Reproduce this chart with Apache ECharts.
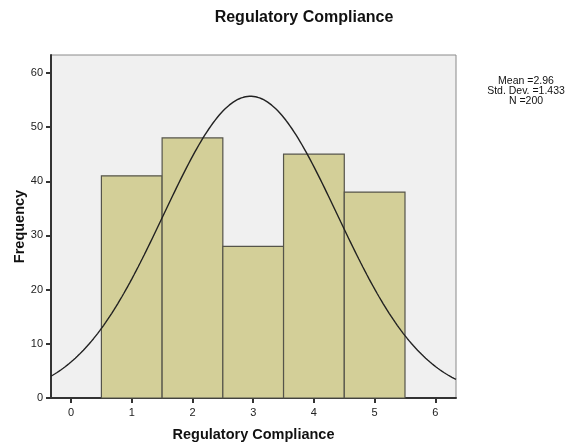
<!DOCTYPE html>
<html>
<head>
<meta charset="utf-8">
<script src="https://cdn.jsdelivr.net/npm/echarts@6/dist/echarts.min.js"></script>
<style>
  html, body { margin: 0; padding: 0; background: #fff; }
  #chart { width: 565px; height: 446px; }
</style>
</head>
<body>
<div id="chart"></div>
<script>
// Histogram bins (score value) and their counts
const binCenters = [1, 2, 3, 4, 5];
const binCounts = [41, 48, 28, 45, 38];
const xTicks = [0, 1, 2, 3, 4, 5, 6];
const yTicks = [0, 10, 20, 30, 40, 50, 60];

// Summary statistics shown beside the plot
const sampleMean = 2.955;
const sampleSd = 1.433;
const sampleN = 200;
const binWidth = 1;

const xMin = -0.33, xMax = 6.34;

// Fitted normal curve, scaled to counts per bin
const curveXs = [];
for (let i = 0; i <= 200; i++) curveXs.push(xMin + (xMax - xMin) * i / 200);
const curveData = curveXs.map(x => {
  const z = (x - sampleMean) / sampleSd;
  const y = sampleN * binWidth / (sampleSd * Math.sqrt(2 * Math.PI)) * Math.exp(-0.5 * z * z);
  return [x, y];
});

const chart = echarts.init(document.getElementById('chart'));
const font = 'Liberation Sans, Arial, sans-serif';

chart.setOption({
  animation: false,
  backgroundColor: '#ffffff',
  title: {
    text: 'Regulatory Compliance',
    left: 299, top: 5, textAlign: 'center',
    textStyle: { fontFamily: font, fontSize: 16, fontWeight: 'bold', color: '#111' }
  },
  grid: {
    left: 51, right: 109, top: 55, bottom: 48,
    outerBoundsMode: 'none', containLabel: false,
    show: true, backgroundColor: '#f0f0f0', borderColor: '#8a8a8a', borderWidth: 1
  },
  xAxis: {
    type: 'value', min: xMin, max: xMax,
    name: 'Regulatory Compliance', nameLocation: 'middle', nameGap: 29,
    nameMoveOverlap: false,
    nameTextStyle: { fontFamily: font, fontSize: 14.5, fontWeight: 'bold', color: '#111' },
    axisLine: { show: true, onZero: false, lineStyle: { color: '#333', width: 2 } },
    axisTick: { show: true, length: 5, lineStyle: { color: '#333', width: 2 }, customValues: xTicks },
    axisLabel: { fontFamily: font, fontSize: 11, color: '#222', margin: 9, customValues: xTicks,
                 showMinLabel: true, showMaxLabel: true },
    splitLine: { show: false }
  },
  yAxis: {
    type: 'value', min: 0, max: 63.3,
    name: 'Frequency', nameLocation: 'middle', nameGap: 24,
    nameMoveOverlap: false,
    nameTextStyle: { fontFamily: font, fontSize: 14.5, fontWeight: 'bold', color: '#111' },
    axisLine: { show: true, onZero: false, lineStyle: { color: '#333', width: 2 } },
    axisTick: { show: true, length: 5, lineStyle: { color: '#333', width: 2 }, customValues: yTicks },
    axisLabel: { fontFamily: font, fontSize: 11, color: '#222', margin: 8, customValues: yTicks },
    splitLine: { show: false }
  },
  graphic: [
    {
      type: 'text', x: 526, y: 76,
      style: {
        text: 'Mean =2.96\nStd. Dev. =1.433\nN =200',
        fontFamily: font, fontSize: 10.5, lineHeight: 10, fill: '#111',
        align: 'center', verticalAlign: 'top'
      }
    }
  ],
  series: [
    {
      type: 'custom',
      data: binCenters.map((c, i) => [c, binCounts[i]]),
      encode: { x: 0, y: 1 },
      renderItem: function (params, api) {
        const c = api.value(0), v = api.value(1);
        const p1 = api.coord([c - binWidth / 2, v]);
        const p2 = api.coord([c + binWidth / 2, 0]);
        return {
          type: 'rect',
          shape: { x: p1[0], y: p1[1], width: p2[0] - p1[0], height: p2[1] - p1[1] },
          style: { fill: '#d3cf98', stroke: '#55544a', lineWidth: 1.2 }
        };
      },
      z: 2
    },
    {
      type: 'line',
      data: curveData,
      showSymbol: false,
      smooth: false,
      lineStyle: { color: '#222', width: 1.4 },
      z: 3
    }
  ]
});
</script>
</body>
</html>
